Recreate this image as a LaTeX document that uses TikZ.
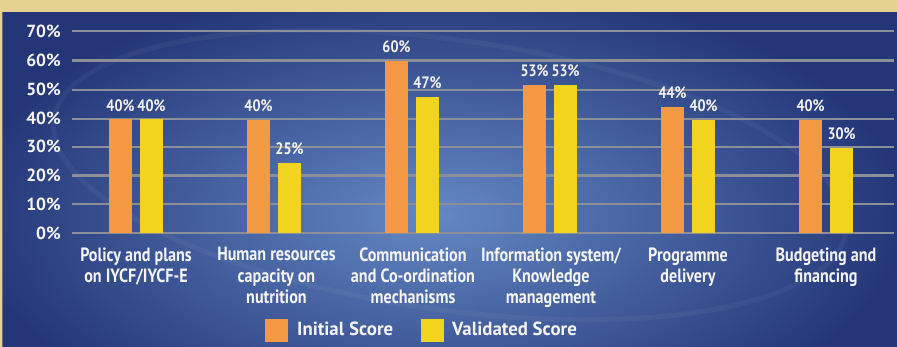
\documentclass[tikz,border=0pt]{standalone}
\usepackage{fontspec}
\setmainfont{PT Sans}
\newfontfamily\condfont{PT Sans}[FakeStretch=0.84]
\newfontfamily\semicondfont{PT Sans}[FakeStretch=0.86]
\newfontfamily\legfont{PT Sans}[FakeStretch=0.99]
\definecolor{beige}{RGB}{229,209,144}
\definecolor{navy}{RGB}{36,54,120}
\definecolor{glow}{RGB}{100,136,196}
\definecolor{barorange}{RGB}{243,152,67}
\definecolor{baryellow}{RGB}{242,212,30}
\definecolor{gridgray}{RGB}{140,142,152}
\definecolor{txt}{RGB}{245,245,248}
\tikzset{
  gridline/.style={gridgray, line width=2.2pt},
  orangebar/.style={fill=barorange, draw=none},
  yellowbar/.style={fill=baryellow, draw=none},
  axislabel/.style={text=txt, inner sep=0pt, anchor=base east, font=\bfseries\fontsize{17.5}{20}\selectfont},
  vallabel/.style={text=txt, inner sep=0pt, anchor=base, font=\semicondfont\bfseries\fontsize{16.5}{19}\selectfont},
  catlabel/.style={text=txt, inner sep=0pt, anchor=north, align=center, font=\condfont\bfseries\fontsize{19.2}{21.3}\selectfont},
  leglabel/.style={text=txt, inner sep=0pt, anchor=base west, font=\legfont\bfseries\fontsize{19}{21}\selectfont},
}
\begin{document}
\begin{tikzpicture}[x=1pt,y=-1pt]
\useasboundingbox (0,0) rectangle (897,347);
% background with glow
\fill[navy] (0,0) rectangle (897,347);
\shade[inner color=glow, outer color=navy] (435,215) ellipse [x radius=470pt, y radius=235pt];
\draw[white, opacity=0.045, line width=5pt, rotate around={-8:(450,175)}] (450,175) ellipse [x radius=400pt, y radius=135pt];
% beige frame on top
\fill[beige, even odd rule] (0,0) rectangle (897,347) (2.3,12) rectangle (897,347);
% grid lines and axis labels
\foreach \v/\yy in {0/233.3,10/204.3,20/175.5,30/146.7,40/119.1,50/90,60/60.5,70/31.4}{
  \draw[gridline] (72,\yy) -- (894,\yy);
  \node[axislabel] (ax\v) at (61,\yy+5.8) {\v\%};
}
% bars: group left edge, initial top, validated top, labels
\foreach \g/\x/\ta/\tb/\la/\lb in {1/109/119.3/119.3/40/40, 2/247/120/162.7/40/25, 3/385/61/97/60/47, 4/523/85/85/53/53, 5/661/106.7/120/44/40, 6/799/120/147.7/40/30}{
  \fill[orangebar] (\x,233.3) rectangle (\x+23,\ta);
  \fill[yellowbar] (\x+31,233.3) rectangle (\x+54,\tb);
  \node[vallabel] (va\g) at (\x+11.5,\ta-8) {\la\%};
  \node[vallabel] (vb\g) at (\x+42.5,\tb-8) {\lb\%};
}
% category labels
\node[catlabel] (c1) at (136,247.2) {Policy and plans\\on IYCF/IYCF-E};
\node[catlabel] (c2) at (276.5,247.2) {Human resources\\capacity on\\nutrition};
\node[catlabel] (c3) at (413,247.2) {Communication\\and Co-ordination\\mechanisms};
\node[catlabel] (c4) at (551,247.2) {Information system/\\Knowledge\\management};
\node[catlabel] (c5) at (688,247.2) {Programme\\delivery};
\node[catlabel] (c6) at (826,247.2) {Budgeting and\\financing};
% legend
\fill[orangebar] (265,319) rectangle (288,342);
\node[leglabel] (l1) at (297,335.7) {Initial Score};
\fill[yellowbar] (421,319) rectangle (444,342);
\node[leglabel] (l2) at (452,335.7) {Validated Score};
\end{tikzpicture}
\end{document}
